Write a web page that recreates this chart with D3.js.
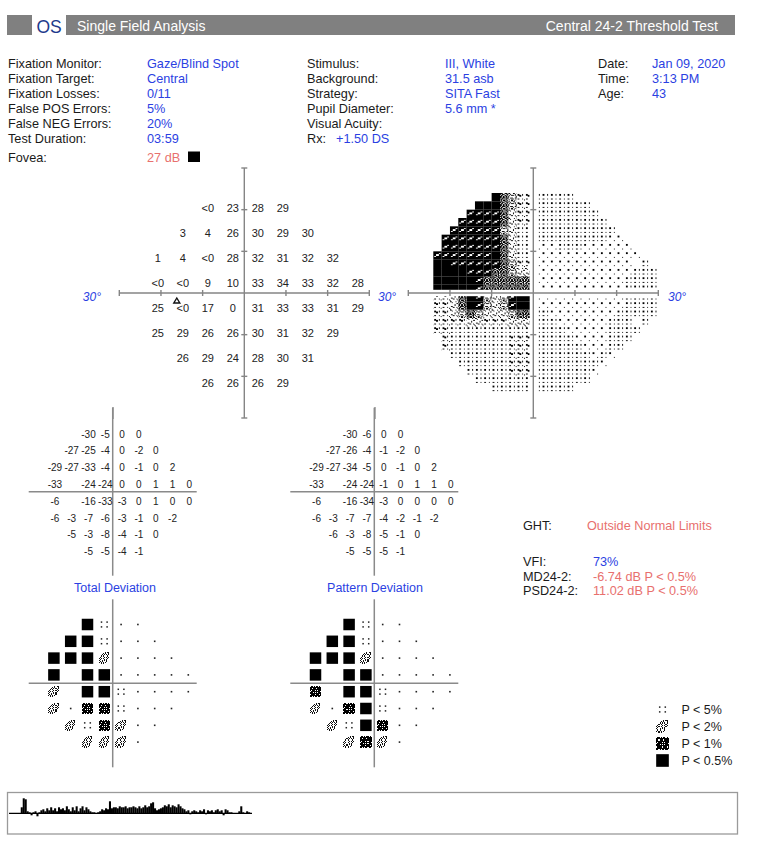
<!DOCTYPE html>
<html>
<head>
<meta charset="utf-8">
<script src="https://cdn.jsdelivr.net/npm/d3@7/dist/d3.min.js"></script>
<style>
html,body{margin:0;padding:0;background:#fff;}
svg{display:block;}
</style>
</head>
<body>
<svg id="chart" width="758" height="858"></svg>
<script>
// ================= DATA =================
const xDegrees = [-27, -21, -15, -9, -3, 3, 9, 15, 21, 27];
const yDegrees = [21, 15, 9, 3, -3, -9, -15, -21];

const thresholdValues = [
  [null, null, null, "<0", "23", "28", "29", null, null, null],
  [null, null, "3", "4", "26", "30", "29", "30", null, null],
  [null, "1", "4", "<0", "28", "32", "31", "32", "32", null],
  [null, "<0", "<0", "9", "10", "33", "34", "33", "32", "28"],
  [null, "25", "<0", "17", "0", "31", "33", "33", "31", "29"],
  [null, "25", "29", "26", "26", "30", "31", "32", "29", null],
  [null, null, "26", "29", "24", "28", "30", "31", null, null],
  [null, null, null, "26", "26", "26", "29", null, null, null]
];
const blindSpot = [-15, -3];

const totalDeviation = [
  [null, null, null, -30, -5, 0, 0, null, null, null],
  [null, null, -27, -25, -4, 0, -2, 0, null, null],
  [null, -29, -27, -33, -4, 0, -1, 0, 2, null],
  [null, -33, null, -24, -24, 0, 0, 1, 1, 0],
  [null, -6, null, -16, -33, -3, 0, 1, 0, 0],
  [null, -6, -3, -7, -6, -3, -1, 0, -2, null],
  [null, null, -5, -3, -8, -4, -1, 0, null, null],
  [null, null, null, -5, -5, -4, -1, null, null, null]
];
const patternDeviation = [
  [null, null, null, -30, -6, 0, 0, null, null, null],
  [null, null, -27, -26, -4, -1, -2, 0, null, null],
  [null, -29, -27, -34, -5, 0, -1, 0, 2, null],
  [null, -33, null, -24, -24, -1, 0, 1, 1, 0],
  [null, -6, null, -16, -34, -3, 0, 0, 0, 0],
  [null, -6, -3, -7, -7, -4, -2, -1, -2, null],
  [null, null, -6, -3, -8, -5, -1, 0, null, null],
  [null, null, null, -5, -5, -5, -1, null, null, null]
];
// 0 = normal, 1 = P<5%, 2 = P<2%, 3 = P<1%, 4 = P<0.5%
const totalDevProb = [
  [null, null, null, 4, 1, 0, 0, null, null, null],
  [null, null, 4, 4, 1, 0, 0, 0, null, null],
  [null, 4, 4, 4, 2, 0, 0, 0, 0, null],
  [null, 4, null, 4, 4, 0, 0, 0, 0, 0],
  [null, 2, null, 4, 4, 1, 0, 0, 0, 0],
  [null, 2, 0, 3, 3, 1, 0, 0, 0, null],
  [null, null, 2, 1, 3, 2, 0, 0, null, null],
  [null, null, null, 2, 2, 2, 0, null, null, null]
];
const patternDevProb = [
  [null, null, null, 4, 1, 0, 0, null, null, null],
  [null, null, 4, 4, 1, 0, 0, 0, null, null],
  [null, 4, 4, 4, 2, 0, 0, 0, 0, null],
  [null, 4, null, 4, 4, 0, 0, 0, 0, 0],
  [null, 3, null, 4, 4, 1, 0, 0, 0, 0],
  [null, 2, 0, 3, 4, 1, 0, 0, 0, null],
  [null, null, 2, 1, 4, 3, 0, 0, null, null],
  [null, null, null, 2, 3, 2, 0, null, null, null]
];
const legendCodes = [1, 2, 3, 4];
const legendLabels = ["P < 5%", "P < 2%", "P < 1%", "P < 0.5%"];

const infoLabels1 = ["Fixation Monitor:", "Fixation Target:", "Fixation Losses:", "False POS Errors:", "False NEG Errors:", "Test Duration:"];
const infoValues1 = ["Gaze/Blind Spot", "Central", "0/11", "5%", "20%", "03:59"];
const infoLabels2 = ["Stimulus:", "Background:", "Strategy:", "Pupil Diameter:", "Visual Acuity:", "Rx:"];
const infoValues2 = ["III, White", "31.5 asb", "SITA Fast", "5.6 mm *", "", ""];
const rxValue = "+1.50 DS";
const infoLabels3 = ["Date:", "Time:", "Age:"];
const infoValues3 = ["Jan 09, 2020", "3:13 PM", "43"];
const foveaValue = "27 dB";

const ghtLabel = "GHT:", ghtValue = "Outside Normal Limits";
const indexLabels = ["VFI:", "MD24-2:", "PSD24-2:"];
const indexValues = ["73%", "-6.74 dB P < 0.5%", "11.02 dB P < 0.5%"];
const indexColors = ["blue", "salmon", "salmon"];

// gaze tracker deflections (sample by sample, left to right)
const gazeTrace = [0,0,0,0,0,0, 6,15,14, 2,1, -2,1,2,-3,1,3,
  4,2,5,3,6, 3,5,2,6,4, 5,3,7,4,2, 6,3,7,2,5, 7,3,6,4,2, 1,1,0,1,2,
  4,3,5,4,12, 5,6,6,5,7, 6,6,7,5,6, 6,7,6,5,7, 5,6,8,6,7, 10,11,5, 3,4,5,
  6,8,7,9,6, 8,7,6,9, 7,5,4, 2,3,-1,2,3,2,1, 3,2,4,-1,3,2,3,1,
  3,4,2,3,-2,4,3,1, 1,0,0,0, 2,7,1, 0,2,1,0];

// ================= DRAWING =================
const FONT = '"Liberation Sans", Arial, Helvetica, sans-serif';
const BLUE = "#2b3fe2", SALMON = "#e8706e", INK = "#1a1a1a", AXIS = "#858585";
const svg = d3.select("#chart").style("font-family", FONT);

function txt(x, y, s, opt = {}) {
  return svg.append("text").attr("x", x).attr("y", y).text(s)
    .attr("font-size", opt.size || 12.7)
    .attr("fill", opt.fill || INK)
    .attr("text-anchor", opt.anchor || "start")
    .attr("font-style", opt.italic ? "italic" : null)
    .attr("font-weight", opt.bold ? "bold" : null);
}

// ---- header ----
svg.append("rect").attr("x", 7).attr("y", 15).attr("width", 25).attr("height", 20).attr("fill", "#808080");
svg.append("rect").attr("x", 66).attr("y", 15).attr("width", 669).attr("height", 20).attr("fill", "#808080");
txt(36.5, 33, "OS", {size: 17.5, fill: "#1e3a8c"});
txt(77, 30.5, "Single Field Analysis", {size: 14, fill: "#fff"});
txt(718, 30.5, "Central 24-2 Threshold Test", {size: 14, fill: "#fff", anchor: "end"});

// ---- info block ----
infoLabels1.forEach((l, i) => { txt(8, 68 + 15 * i, l); txt(147, 68 + 15 * i, infoValues1[i], {fill: BLUE}); });
infoLabels2.forEach((l, i) => { txt(307, 68 + 15 * i, l); if (infoValues2[i]) txt(445, 68 + 15 * i, infoValues2[i], {fill: BLUE}); });
txt(336, 68 + 15 * 5, rxValue, {fill: BLUE});
infoLabels3.forEach((l, i) => { txt(598, 68 + 15 * i, l); txt(652, 68 + 15 * i, infoValues3[i], {fill: BLUE}); });
txt(8, 162, "Fovea:");
txt(147, 162, foveaValue, {fill: SALMON});
svg.append("rect").attr("x", 188).attr("y", 151.5).attr("width", 12).attr("height", 10.5).attr("fill", "#000");

// ---- geometry helpers ----
function makeScales(cx, cy, r) {
  return {
    x: d3.scaleLinear().domain([-30, 30]).range([cx - r, cx + r]),
    y: d3.scaleLinear().domain([-30, 30]).range([cy + r, cy - r])
  };
}
function eachPoint(grid, fn) {
  grid.forEach((row, j) => row.forEach((v, i) => { if (v !== null && v !== undefined) fn(v, xDegrees[i], yDegrees[j]); }));
}
function cross(sc, color, width, ticks) {
  const g = svg.append("g").attr("stroke", color).attr("stroke-width", width).attr("fill", "none");
  g.append("line").attr("x1", sc.x(-30)).attr("x2", sc.x(30)).attr("y1", sc.y(0)).attr("y2", sc.y(0));
  g.append("line").attr("x1", sc.x(0)).attr("x2", sc.x(0)).attr("y1", sc.y(30)).attr("y2", sc.y(-30));
  if (ticks) {
    [-30, -20, -10, 10, 20, 30].forEach(t => {
      g.append("line").attr("x1", sc.x(t)).attr("x2", sc.x(t)).attr("y1", sc.y(0) - 3).attr("y2", sc.y(0) + 3);
      g.append("line").attr("x1", sc.x(0) - 3).attr("x2", sc.x(0) + 3).attr("y1", sc.y(t)).attr("y2", sc.y(t));
    });
  }
  return g;
}

// ---- threshold plot ----
const TS = makeScales(244.3, 293, 125);
cross(TS, AXIS, 1.4, true);
svg.append("line").attr("x1", 113).attr("x2", 113).attr("y1", 407).attr("y2", 419).attr("stroke", AXIS).attr("stroke-width", 1.3);
svg.append("line").attr("x1", 375).attr("x2", 375).attr("y1", 407).attr("y2", 419).attr("stroke", AXIS).attr("stroke-width", 1.3);
eachPoint(thresholdValues, (v, x, y) => {
  txt(TS.x(x) + 1, TS.y(y) + 6.5, v, {size: 11, anchor: "middle", fill: "#222"});
});
// blind spot triangle
{
  const bx = TS.x(blindSpot[0]) - 5, by = TS.y(blindSpot[1]) - 4.5;
  svg.append("path").attr("d", `M${bx},${by - 3}L${bx + 3},${by + 2}L${bx - 3},${by + 2}Z`)
    .attr("fill", "none").attr("stroke", "#111").attr("stroke-width", 1.4);
}
txt(101, 301, "30°", {size: 12, italic: true, fill: BLUE, anchor: "end"});
txt(378, 301, "30°", {size: 12, italic: true, fill: BLUE});

// ---- grayscale plot ----
const GS = makeScales(533.3, 293, 125);
const cellPx = GS.x(2) - GS.x(0);
const grayPatterns = [
  null, // level 0: solid black
  ["########", "########", "#####..#", "###..###", "#..#####", "########", "########", "########"],
  ["###.###.", "#.##..##", ".##.##.#", "##.#.##.", "#.###.##", ".##..##.", "##.##.#.", ".#.##.##"],
  ["##..##..", "..#...#.", ".#.##.#.", "#......#", "..##..##", "#...#...", ".#.#..#.", "...#.#.."],
  ["##...#..", "..#.....", "......##", "....#...", ".##.....", "...#..#.", ".......#", "#......."],
  ["........", ".#...#..", "...#....", "........", "........", ".#...#..", ".......#", "........"],
  ["........", ".#...#..", "........", "........", "........", ".#...#..", "........", "........"],
  ["........", ".#......", "........", "........", "........", ".....#..", "........", "........"],
  ["........", "........", "........", "........", "........", "........", "........", "........"]
];
const defs = svg.append("defs");
grayPatterns.forEach((rows, li) => {
  if (!rows) return;
  const p = defs.append("pattern").attr("id", "gs" + li).attr("patternUnits", "userSpaceOnUse")
    .attr("x", GS.x(-30)).attr("y", GS.y(30)).attr("width", cellPx).attr("height", cellPx);
  const px = cellPx / 8;
  const dot = li >= 5 ? 1.3 : px;
  let d = "";
  rows.forEach((row, r) => { for (let c = 0; c < 8; c++) if (row[c] === "#") d += `M${c * px},${r * px}h${dot}v${dot}h${-dot}z`; });
  if (d) p.append("path").attr("d", d).attr("fill", "#000").attr("shape-rendering", "crispEdges");
});

const numThreshold = thresholdValues.map(row => row.map(v => v === null ? null : (v === "<0" ? 0 : +v)));
function tv(x, y) {
  const i = xDegrees.indexOf(x), j = yDegrees.indexOf(y);
  if (i < 0 || j < 0) return null;
  return numThreshold[j][i];
}
function interp(cx, cy) {
  const sx = cx < 0 ? -1 : 1, sy = cy < 0 ? -1 : 1;
  const u = Math.max(0, (Math.abs(cx) - 3) / 6), w = Math.max(0, (Math.abs(cy) - 3) / 6);
  const i0 = Math.floor(u), j0 = Math.floor(w), fu = u - i0, fw = w - j0;
  let s = 0, ws = 0;
  [[0, 0, (1 - fu) * (1 - fw)], [1, 0, fu * (1 - fw)], [0, 1, (1 - fu) * fw], [1, 1, fu * fw]].forEach(([di, dj, wt]) => {
    const v = tv(sx * (3 + 6 * (i0 + di)), sy * (3 + 6 * (j0 + dj)));
    if (v !== null && wt > 1e-9) { s += v * wt; ws += wt; }
  });
  if (ws > 0) return s / ws;
  let best = null, bd = 1e9;
  eachPoint(numThreshold, (v, x, y) => {
    if (Math.sign(x) !== sx || Math.sign(y) !== sy) return;
    const d = Math.hypot(x - cx, y - cy);
    if (d < bd) { bd = d; best = v; }
  });
  return best;
}
const nasalPts = [];
eachPoint(numThreshold, (v, x, y) => { if (x >= 21) nasalPts.push([x, y]); });
function inField(cx, cy) {
  if (Math.hypot(cx, cy) <= 25) return true;
  if (cx > 0) return nasalPts.some(([x, y]) => Math.hypot(cx - x, cy - y) <= 4.3);
  return false;
}
function grayLevel(v) {
  if (v < 1) return 0;
  return Math.min(8, 1 + Math.floor((v - 1) / 5));
}
const cells = [];
for (let cx = -29; cx <= 29; cx += 2) for (let cy = -29; cy <= 29; cy += 2) {
  if (!inField(cx, cy)) continue;
  const v = interp(cx, cy);
  if (v === null) continue;
  cells.push({cx, cy, level: grayLevel(v)});
}
svg.append("g").selectAll("rect").data(cells).join("rect")
  .attr("x", d => GS.x(d.cx - 1)).attr("y", d => GS.y(d.cy + 1))
  .attr("width", cellPx + 0.05).attr("height", cellPx + 0.05)
  .attr("fill", d => d.level === 0 ? "#000" : `url(#gs${d.level})`);
// white gaps around axes
svg.append("rect").attr("x", GS.x(-30)).attr("y", GS.y(0) - 3.2).attr("width", GS.x(30) - GS.x(-30)).attr("height", 6.4).attr("fill", "#fff");
svg.append("rect").attr("x", GS.x(0) - 3.6).attr("y", GS.y(30)).attr("width", 7.2).attr("height", GS.y(-30) - GS.y(30)).attr("fill", "#fff");
cross(GS, AXIS, 1.4, true);
txt(668, 301, "30°", {size: 12, italic: true, fill: BLUE});

// ---- deviation number plots ----
const TDS = makeScales(112.7, 491.7, 84);
const PDS = makeScales(374.3, 491.7, 84);
cross(TDS, "#8a8a8a", 1.5, false);
cross(PDS, "#8a8a8a", 1.5, false);
eachPoint(totalDeviation, (v, x, y) => txt(TDS.x(x) + 1, TDS.y(y) + 4.6, String(v), {size: 10, anchor: "middle", fill: "#222"}));
eachPoint(patternDeviation, (v, x, y) => txt(PDS.x(x) + 1, PDS.y(y) + 4.6, String(v), {size: 10, anchor: "middle", fill: "#222"}));
txt(115, 592, "Total Deviation", {size: 12.5, fill: BLUE, anchor: "middle"});
txt(375, 592, "Pattern Deviation", {size: 12.5, fill: BLUE, anchor: "middle"});

// ---- probability plots ----
const TPS = makeScales(112.7, 683.3, 84);
const PPS = makeScales(374.3, 683.3, 84);
cross(TPS, "#8a8a8a", 1.5, false);
cross(PPS, "#8a8a8a", 1.5, false);

const symP2 = [
  "......#.##.",
  "....#.#..#.",
  "...#.#.#.#.",
  "..#.#...#..",
  ".#...#.#.#.",
  "#.#.#...#..",
  ".#...#.#...",
  "#..#.#.#...",
  ".#.#...#...",
  "#.#.#.#....",
  "..#.#......"
];
const symP1 = [
  ".##.#.##.#.",
  "###########",
  "##.###.####",
  "###########",
  "#.###.#.###",
  ".#########.",
  "###.#.#.###",
  "###########",
  ".####.###.#",
  "###########",
  "##.#.##.##."
];
function bitmapPath(rows, cx, cy, px) {
  const n = rows.length, x0 = cx - n * px / 2, y0 = cy - n * px / 2;
  let d = "";
  rows.forEach((row, r) => { for (let c = 0; c < row.length; c++) if (row[c] === "#") d += `M${x0 + c * px},${y0 + r * px}h${px}v${px}h${-px}z`; });
  return d;
}
function drawSymbol(g, code, cx, cy, big) {
  const s = big ? 1.1 : 1;
  if (code === 0) {
    g.append("rect").attr("x", cx - 0.8).attr("y", cy - 0.8).attr("width", 1.6).attr("height", 1.6).attr("fill", "#222");
  } else if (code === 1) {
    [-2.8, 2.8].forEach(dx => [-2.4, 2.4].forEach(dy =>
      g.append("rect").attr("x", cx + dx - 0.75).attr("y", cy + dy - 0.75).attr("width", 1.5).attr("height", 1.5).attr("fill", "#222")));
  } else if (code === 2) {
    g.append("path").attr("d", bitmapPath(symP2, cx, cy, 1.05 * s)).attr("fill", "#111").attr("shape-rendering", "crispEdges");
  } else if (code === 3) {
    g.append("path").attr("d", bitmapPath(symP1, cx, cy, 1.05 * s)).attr("fill", "#000").attr("shape-rendering", "crispEdges");
  } else if (code === 4) {
    const w = 11.5 * s;
    g.append("rect").attr("x", cx - w / 2).attr("y", cy - w / 2).attr("width", w).attr("height", w).attr("fill", "#000");
  }
}
const probG = svg.append("g");
eachPoint(totalDevProb, (c, x, y) => drawSymbol(probG, c, TPS.x(x), TPS.y(y)));
eachPoint(patternDevProb, (c, x, y) => drawSymbol(probG, c, PPS.x(x), PPS.y(y)));

// ---- legend ----
legendCodes.forEach((c, i) => {
  drawSymbol(probG, c, 662.5, 709.5 + 17 * i, true);
  txt(681.5, 714 + 17 * i, legendLabels[i], {size: 12.5});
});

// ---- GHT / indices ----
txt(523, 530, ghtLabel);
txt(587, 530, ghtValue, {fill: SALMON});
indexLabels.forEach((l, i) => {
  txt(523, 566 + 14.5 * i, l);
  txt(593, 566 + 14.5 * i, indexValues[i], {fill: indexColors[i] === "blue" ? BLUE : SALMON});
});

// ---- gaze tracker ----
svg.append("rect").attr("x", 7.5).attr("y", 792.5).attr("width", 730).attr("height", 41.5)
  .attr("fill", "none").attr("stroke", "#9a9a9a").attr("stroke-width", 1.3);
const gx = d3.scaleBand().domain(d3.range(gazeTrace.length)).range([9, 252]).padding(0);
const gy = d3.scaleLinear().domain([0, 15]).range([813.3, 798.3]);
svg.append("g").selectAll("rect").data(gazeTrace).join("rect")
  .attr("x", (d, i) => gx(i)).attr("width", gx.bandwidth() + 0.1)
  .attr("y", d => Math.min(gy(d), gy(0))).attr("height", d => Math.abs(gy(d) - gy(0)))
  .attr("fill", "#000");
svg.append("line").attr("x1", 9).attr("x2", 252).attr("y1", gy(0)).attr("y2", gy(0)).attr("stroke", "#000").attr("stroke-width", 1.2);
</script>
</body>
</html>
